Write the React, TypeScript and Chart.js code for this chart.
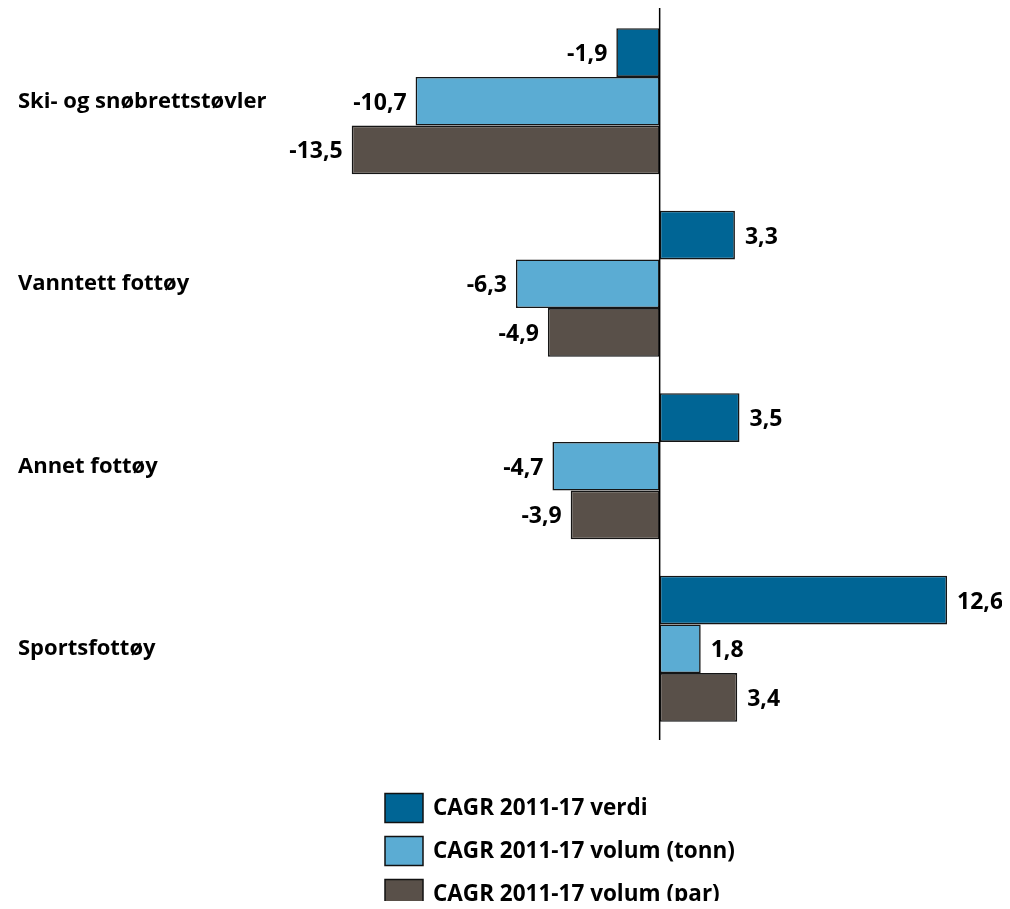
import React, { useEffect, useRef } from "react";
import { Chart, registerables } from "chart.js";

Chart.register(...registerables);

const categories = ["Ski- og snøbrettstøvler", "Vanntett fottøy", "Annet fottøy", "Sportsfottøy"];
const seriesNames = ["CAGR 2011-17 verdi", "CAGR 2011-17 volum (tonn)", "CAGR 2011-17 volum (par)"];
const verdi = [-1.9, 3.3, 3.5, 12.6];
const volumTonn = [-10.7, -6.3, -4.7, 1.8];
const volumPar = [-13.5, -4.9, -3.9, 3.4];
const colors = ["#006595", "#5BACD3", "#595049"];

const FONT = '"Open Sans", "Noto Sans", sans-serif';

const fmt = (v: number) => v.toFixed(1).replace(".", ",");

const customPlugin = {
  id: "custom",
  afterDatasetsDraw(chart: any) {
    const ctx = chart.ctx;
    const { chartArea, scales } = chart;
    const x0 = scales.x.getPixelForValue(0);
    ctx.save();
    ctx.strokeStyle = "#000";
    ctx.lineWidth = 1.5;
    ctx.beginPath();
    ctx.moveTo(x0, chartArea.top - 2);
    ctx.lineTo(x0, chartArea.bottom);
    ctx.stroke();
    ctx.font = `bold 23px ${FONT}`;
    ctx.fillStyle = "#000";
    ctx.textBaseline = "middle";
    chart.data.datasets.forEach((ds: any, di: number) => {
      const meta = chart.getDatasetMeta(di);
      meta.data.forEach((bar: any, i: number) => {
        const v = ds.data[i];
        if (v < 0) {
          ctx.textAlign = "right";
          ctx.fillText(fmt(v), bar.x - 9, bar.y + 2);
        } else {
          ctx.textAlign = "left";
          ctx.fillText(fmt(v), bar.x + 10, bar.y + 2);
        }
      });
    });
    ctx.restore();
  },
  afterDraw(chart: any) {
    const ctx = chart.ctx;
    ctx.save();
    const boxX = 377;
    const boxW = 38;
    const boxH = 29;
    const centers = [800, 843, 886];
    chart.data.datasets.forEach((ds: any, di: number) => {
      const cy = centers[di];
      ctx.fillStyle = ds.backgroundColor;
      ctx.fillRect(boxX, cy - boxH / 2, boxW, boxH);
      ctx.strokeStyle = "#111";
      ctx.lineWidth = 1.5;
      ctx.strokeRect(boxX, cy - boxH / 2, boxW, boxH);
      ctx.fillStyle = "#000";
      ctx.font = `bold 22.5px ${FONT}`;
      ctx.textAlign = "left";
      ctx.textBaseline = "middle";
      ctx.fillText(ds.label, 425, cy + 1);
    });
    ctx.restore();
  },
};

export default function App() {
  const ref = useRef<HTMLCanvasElement | null>(null);
  useEffect(() => {
    if (!ref.current) return;
    const chart = new Chart(ref.current, {
      type: "bar",
      data: {
        labels: categories,
        datasets: [verdi, volumTonn, volumPar].map((d, i) => ({
          label: seriesNames[i],
          data: d,
          backgroundColor: colors[i],
          borderColor: "#151515",
          borderWidth: 1.6,
          borderSkipped: false,
          categoryPercentage: 0.8,
          barPercentage: 1.0,
        })),
      },
      options: {
        indexAxis: "y",
        animation: false,
        responsive: true,
        maintainAspectRatio: false,
        layout: { padding: { left: 10, right: 23, top: 2, bottom: 169 } },
        plugins: { legend: { display: false }, tooltip: { enabled: false } },
        scales: {
          x: { display: false, min: -15, max: 14 },
          y: {
            grid: { display: false },
            border: { display: false },
            ticks: {
              crossAlign: "far",
              color: "#000",
              font: { family: FONT, size: 22, weight: "bold" },
            },
            afterFit: (scale: any) => {
              scale.width = 299.5;
              scale.paddingTop = 0;
              scale.paddingBottom = 0;
            },
          },
        },
      },
      plugins: [customPlugin],
    });
    return () => chart.destroy();
  }, []);
  return (
    <div style={{ width: 994, height: 901, marginBottom: -8, position: "relative" }}>
      <canvas ref={ref} />
    </div>
  );
}
